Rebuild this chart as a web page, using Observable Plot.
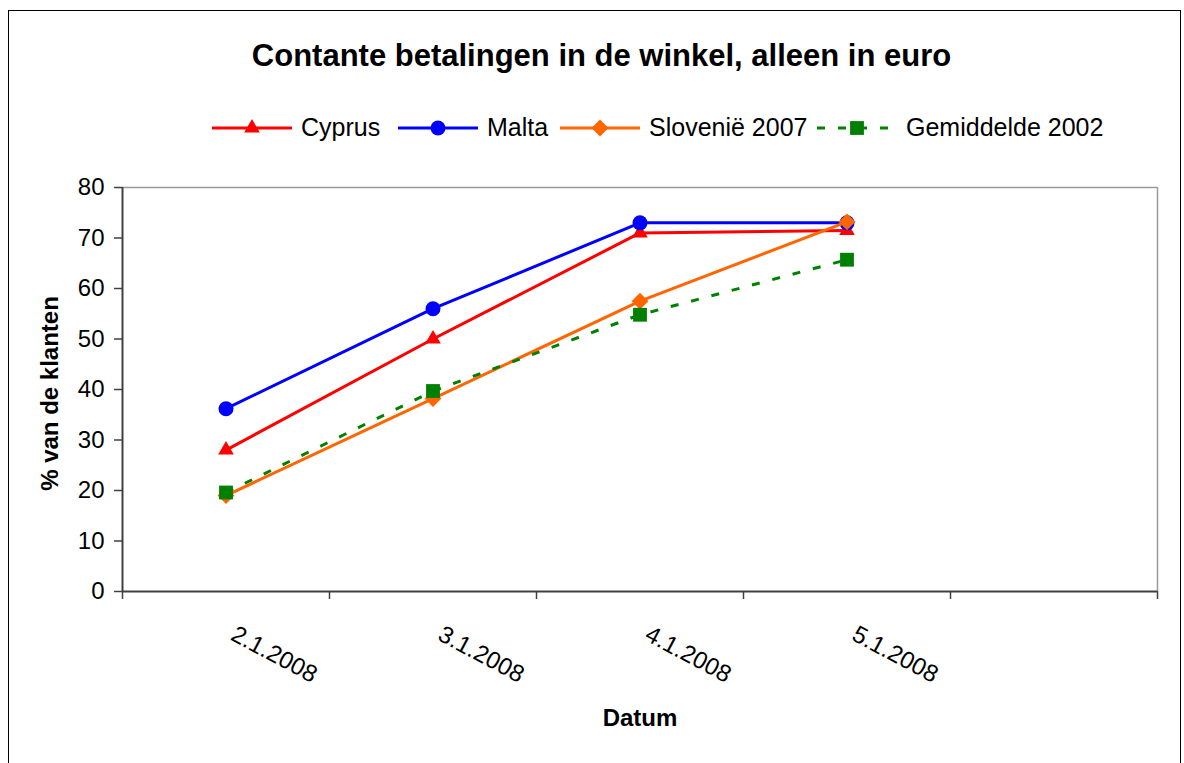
<!DOCTYPE html>
<html>
<head>
<meta charset="utf-8">
<script src="https://cdn.jsdelivr.net/npm/d3@7"></script>
<script src="https://cdn.jsdelivr.net/npm/@observablehq/plot@0.6"></script>
<style>
  body { margin: 0; background: #fff; font-family: "Liberation Sans", Arial, sans-serif; }
  #wrap { position: relative; width: 1184px; height: 763px; overflow: hidden; background: #fff; }
  #chart { position: absolute; left: 0; top: 0; }
  #frame { position: absolute; left: 8px; top: 10px; width: 1173px; height: 780px; border: 1px solid #000; box-sizing: border-box; pointer-events: none; }
  #title { position: absolute; left: 0; top: 38px; width: 1203px; text-align: center; font-weight: bold; font-size: 31px; color: #000; }
  #legend { position: absolute; left: 0; top: 113px; width: 1184px; height: 30px; font-size: 25px; color: #000; white-space: nowrap; }
  .item { position: absolute; top: 0; display: flex; align-items: center; }
  .item svg { margin-right: 9px; display: block; }
</style>
</head>
<body>
<div id="wrap">
  <div id="chart"></div>
  <div id="frame"></div>
  <div id="title"></div>
  <div id="legend"></div>
</div>
<script>
// ---- data ----
const titleText = "Contante betalingen in de winkel, alleen in euro";
const xTitle = "Datum";
const yTitle = "% van de klanten";
const dates = ["2.1.2008", "3.1.2008", "4.1.2008", "5.1.2008"];
const slotCount = 5; // category slots on the x axis (last one empty)
const seriesNames = ["Cyprus", "Malta", "Slovenië 2007", "Gemiddelde 2002"];
const cyprus = [28, 50, 71, 71.5];
const malta = [36.2, 56, 73, 73];
const slovenie = [19, 38.2, 57.5, 73.2];
const gemiddelde = [19.6, 39.7, 54.8, 65.7];
const yTicks = [0, 10, 20, 30, 40, 50, 60, 70, 80];

// ---- styles ----
const colors = ["#FF0000", "#0000FF", "#FF6600", "#008000"];
const symbols = ["triangle", "circle", "diamond2", "square"];
const radii = [5.8, 7.5, 7.6, 7.8];
const dashes = [null, null, null, "8,13"];
const legendLeft = [212, 398, 560, 817];

const values = [cyprus, malta, slovenie, gemiddelde];
const series = seriesNames.map((name, k) => ({
  name, color: colors[k], symbol: symbols[k], r: radii[k], dash: dashes[k],
  rows: values[k].map((v, i) => ({date: dates[i], slot: i + 0.5, value: v}))
}));
const slotEdges = d3.range(slotCount + 1);
const labelRows = dates.map((d, i) => ({date: d, slot: i + 0.5}));

document.getElementById("title").textContent = titleText;

const marks = [
  Plot.ruleY([80], {stroke: "#9a9a9a", strokeWidth: 1.5}),
  Plot.ruleX([slotCount], {stroke: "#9a9a9a", strokeWidth: 1.5}),
  Plot.axisY({ticks: yTicks, tickSize: 8, tickPadding: 10, fontSize: 24, label: null, stroke: "#404040", strokeWidth: 1.5}),
  Plot.axisX({ticks: slotEdges, tickSize: 8, tickFormat: () => "", label: null, stroke: "#404040", strokeWidth: 1.5}),
  Plot.ruleX([0], {stroke: "#404040", strokeWidth: 2}),
  Plot.ruleY([0], {stroke: "#404040", strokeWidth: 2}),
  Plot.text(labelRows, {x: "slot", frameAnchor: "bottom", text: "date", rotate: 28, textAnchor: "start", lineAnchor: "middle", dx: 7, dy: 41, fontSize: 24, fill: "#000"}),
  Plot.text([xTitle], {frameAnchor: "bottom", text: d => d, dy: 134, lineAnchor: "bottom", fontWeight: "bold", fontSize: 24, fill: "#000"}),
  Plot.text([yTitle], {frameAnchor: "left", text: d => d, rotate: -90, dx: -72, dy: 4, textAnchor: "middle", lineAnchor: "middle", fontWeight: "bold", fontSize: 24, fill: "#000"})
];
for (const s of series) {
  marks.push(Plot.line(s.rows, {x: "slot", y: "value", stroke: s.color, strokeWidth: 3,
    strokeDasharray: s.dash || undefined, strokeLinecap: s.dash ? "butt" : "round"}));
  marks.push(Plot.dot(s.rows, {x: "slot", y: "value", symbol: () => s.symbol, r: s.r, fill: s.color, stroke: "none"}));
}

const chart = Plot.plot({
  width: 1184, height: 763,
  marginLeft: 122, marginRight: 27, marginTop: 187, marginBottom: 172,
  x: {type: "linear", domain: [0, slotCount], axis: null},
  y: {type: "linear", domain: [0, 80], axis: null},
  symbol: {type: "identity"},
  style: {fontFamily: "Liberation Sans, Arial, sans-serif", fontSize: "24px", color: "#000", background: "#fff"},
  marks
});
document.getElementById("chart").appendChild(chart);

// legend swatches
const legend = document.getElementById("legend");
series.forEach((s, k) => {
  const item = document.createElement("div");
  item.className = "item";
  item.style.left = legendLeft[k] + "px";
  const w = 80, h = 28;
  const svg = d3.create("svg").attr("width", w).attr("height", h);
  svg.append("line").attr("x1", 0).attr("x2", w).attr("y1", h / 2).attr("y2", h / 2)
    .attr("stroke", s.color).attr("stroke-width", 3)
    .attr("stroke-dasharray", s.dash ? "8,13" : null);
  const sym = {triangle: d3.symbolTriangle, circle: d3.symbolCircle, diamond2: d3.symbolDiamond2, square: d3.symbolSquare}[s.symbol];
  svg.append("path").attr("transform", `translate(${w / 2},${h / 2})`)
    .attr("d", d3.symbol(sym, Math.PI * s.r * s.r)()).attr("fill", s.color);
  item.appendChild(svg.node());
  const span = document.createElement("span");
  span.textContent = s.name;
  item.appendChild(span);
  legend.appendChild(item);
});
</script>
</body>
</html>
